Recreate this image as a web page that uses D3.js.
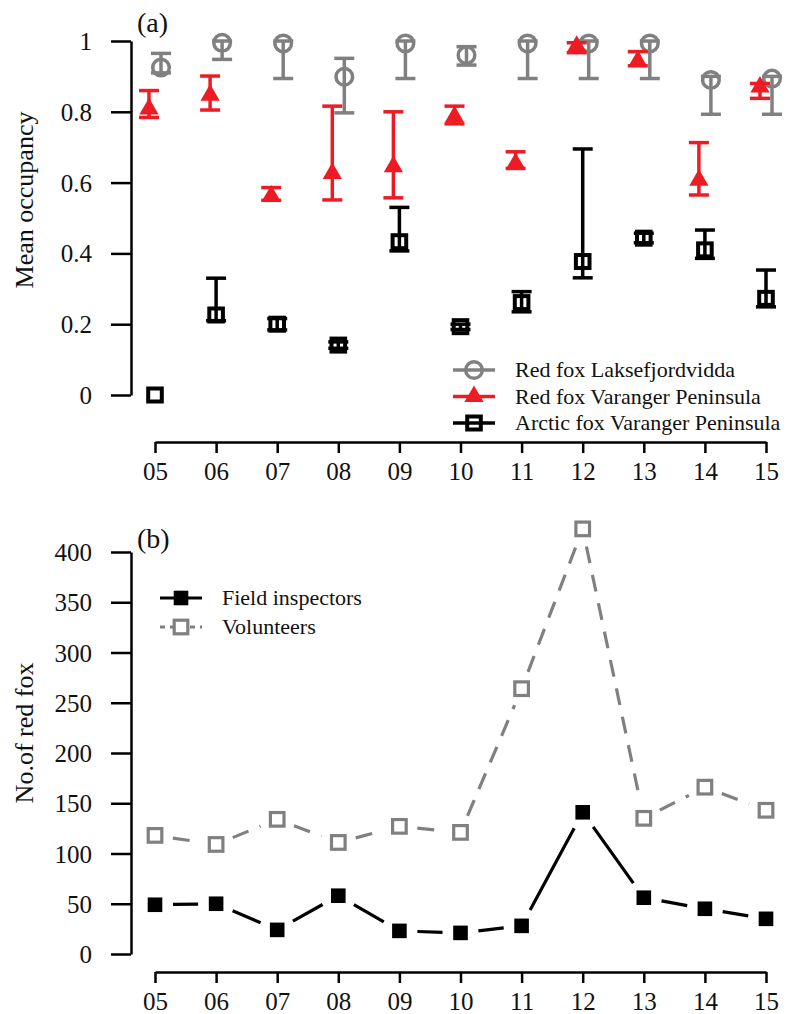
<!DOCTYPE html>
<html>
<head>
<meta charset="utf-8">
<script src="https://cdn.jsdelivr.net/npm/d3@7"></script>
<style>
  body { margin: 0; background: #fff; }
  svg { display: block; font-family: "Liberation Serif", "Times New Roman", serif; }
</style>
</head>
<body>
<svg id="chart" width="787" height="1014"></svg>
<script>
// ---------- DATA ----------
const years = [5, 6, 7, 8, 9, 10, 11, 12, 13, 14, 15];
const yearLabels = ["05", "06", "07", "08", "09", "10", "11", "12", "13", "14", "15"];

// Panel (a): mean occupancy with error bars
const lakMean = [0.925, 0.995, 0.993, 0.899, 0.993, 0.960, 0.993, 0.993, 0.993, 0.890, 0.894];
const lakLow  = [0.910, 0.948, 0.894, 0.797, 0.894, 0.932, 0.894, 0.894, 0.894, 0.793, 0.793];
const lakUp   = [0.965, 1.000, 1.000, 0.951, 1.000, 0.984, 1.000, 1.000, 1.000, 0.900, 0.900];

const redMean = [0.808, 0.847, 0.562, 0.626, 0.645, 0.786, 0.654, 0.985, 0.943, 0.607, 0.870];
const redLow  = [0.784, 0.805, 0.550, 0.551, 0.557, 0.766, 0.640, 0.967, 0.930, 0.565, 0.838];
const redUp   = [0.860, 0.901, 0.586, 0.816, 0.800, 0.816, 0.687, 0.995, 0.970, 0.713, 0.880];

const arcMean = [0.000, 0.226, 0.200, 0.141, 0.433, 0.193, 0.261, 0.377, 0.443, 0.410, 0.273];
const arcLow  = [0.000, 0.210, 0.184, 0.132, 0.407, 0.185, 0.235, 0.331, 0.430, 0.386, 0.249];
const arcUp   = [0.000, 0.330, 0.216, 0.150, 0.530, 0.200, 0.292, 0.695, 0.457, 0.466, 0.353];

const occTicks = [0, 0.2, 0.4, 0.6, 0.8, 1];
const occTickLabels = ["0", "0.2", "0.4", "0.6", "0.8", "1"];

// Panel (b): number of red fox
const fieldInspectors = [49, 50, 24, 58, 23, 21, 28, 141, 56, 45, 35];
const volunteers      = [118, 109, 134, 111, 127, 121, 264, 423, 135, 166, 143];
const countTicks = [0, 50, 100, 150, 200, 250, 300, 350, 400];

const legendA = ["Red fox Laksefjordvidda", "Red fox Varanger Peninsula", "Arctic fox Varanger Peninsula"];
const legendB = ["Field inspectors", "Volunteers"];

// ---------- STYLE ----------
const GRAY = "#808080", RED = "#ED1C24", BLACK = "#000";
const svg = d3.select("#chart");

const xA = d3.scaleLinear().domain([5, 15]).range([155, 766]);
const yA = d3.scaleLinear().domain([0, 1]).range([395, 41]);
const xB = d3.scaleLinear().domain([5, 15]).range([155, 766]);
const yB = d3.scaleLinear().domain([0, 400]).range([954, 552]);

function styleAxis(g) {
  g.selectAll("path.domain").attr("stroke", "#000").attr("stroke-width", 2.5);
  g.selectAll(".tick line").attr("stroke", "#000").attr("stroke-width", 2.5);
  g.selectAll(".tick text").attr("fill", "#111")
    .attr("font-family", '"Liberation Serif", "Times New Roman", serif')
    .attr("font-size", 25);
  g.attr("font-family", null).attr("font-size", null);
}

function drawAxes(x, y, yTicks, yFmt, xAxisY, yAxisX) {
  const gy = svg.append("g").attr("transform", `translate(${yAxisX},0)`)
    .call(d3.axisLeft(y).tickValues(yTicks).tickFormat(yFmt).tickSize(20).tickSizeOuter(0).tickPadding(19));
  styleAxis(gy);
  gy.selectAll(".tick text").attr("dy", "0.34em");
  const gx = svg.append("g").attr("transform", `translate(0,${xAxisY})`)
    .call(d3.axisBottom(x).tickValues(years).tickFormat((d, i) => yearLabels[i]).tickSize(11).tickSizeOuter(0).tickPadding(9));
  styleAxis(gx);
}

// ---------- PANEL (a) ----------
drawAxes(xA, yA, occTicks, (d, i) => occTickLabels[i], 442, 131);

svg.append("text").attr("x", 137).attr("y", 32).attr("font-size", 28).attr("fill", "#111").text("(a)");
svg.append("text").attr("transform", "translate(33,200) rotate(-90)").attr("text-anchor", "middle")
  .attr("font-size", 26).attr("fill", "#111").text("Mean occupancy");

const seriesA = [
  { mean: lakMean, low: lakLow, up: lakUp, color: GRAY, dx: 6, shape: "circle" },
  { mean: redMean, low: redLow, up: redUp, color: RED, dx: -6, shape: "triangle" },
  { mean: arcMean, low: arcLow, up: arcUp, color: BLACK, dx: 0, shape: "square" }
];

function drawMarker(g, shape, color, cx, cy) {
  if (shape === "circle") {
    g.append("circle").attr("cx", cx).attr("cy", cy).attr("r", 8.3)
      .attr("fill", "none").attr("stroke", color).attr("stroke-width", 3.5);
  } else if (shape === "triangle") {
    g.append("path").attr("d", d3.symbol(d3.symbolTriangle, 160)())
      .attr("transform", `translate(${cx},${cy})`).attr("fill", color);
  } else if (shape === "square") {
    g.append("rect").attr("x", cx - 6.8).attr("y", cy - 6.5).attr("width", 13.6).attr("height", 13)
      .attr("fill", "none").attr("stroke", color).attr("stroke-width", 4);
  }
}

seriesA.forEach(s => {
  const g = svg.append("g");
  years.forEach((yr, i) => {
    const cx = xA(yr) + s.dx;
    const yl = yA(s.low[i]), yu = yA(s.up[i]);
    if (Math.abs(yl - yu) > 0.5) {
      g.append("line").attr("x1", cx).attr("x2", cx).attr("y1", yl).attr("y2", yu)
        .attr("stroke", s.color).attr("stroke-width", 3.5);
      [yl, yu].forEach(yy => g.append("line").attr("x1", cx - 10).attr("x2", cx + 10)
        .attr("y1", yy).attr("y2", yy).attr("stroke", s.color).attr("stroke-width", 3.5));
    }
    drawMarker(g, s.shape, s.color, cx, yA(s.mean[i]));
  });
});

// legend (a)
legendA.forEach((t, i) => {
  const s = seriesA[i];
  const ly = 370 + i * 26.5;
  const g = svg.append("g");
  g.append("line").attr("x1", 453).attr("x2", 495).attr("y1", ly).attr("y2", ly)
    .attr("stroke", s.color).attr("stroke-width", 3.5);
  drawMarker(g, s.shape, s.color, 474, ly);
  g.append("text").attr("x", 515).attr("y", ly).attr("dy", "0.33em").attr("font-size", 22)
    .attr("fill", "#111").text(t);
});

// ---------- PANEL (b) ----------
drawAxes(xB, yB, countTicks, d => d, 972, 131);

svg.append("text").attr("x", 137).attr("y", 548).attr("font-size", 28).attr("fill", "#111").text("(b)");
svg.append("text").attr("transform", "translate(33,733) rotate(-90)").attr("text-anchor", "middle")
  .attr("font-size", 26).attr("fill", "#111").text("No.of red fox");

function gappedPath(vals) {
  const pts = years.map((yr, i) => [xB(yr), yB(vals[i])]);
  const p = d3.path();
  const gap = 18;
  for (let i = 0; i < pts.length - 1; i++) {
    const [x1, y1] = pts[i], [x2, y2] = pts[i + 1];
    const dx = x2 - x1, dy = y2 - y1, L = Math.hypot(dx, dy);
    if (L <= 2 * gap) continue;
    const ux = dx / L, uy = dy / L;
    p.moveTo(x1 + ux * gap, y1 + uy * gap);
    p.lineTo(x2 - ux * gap, y2 - uy * gap);
  }
  return p.toString();
}

svg.append("path").attr("d", gappedPath(volunteers)).attr("fill", "none")
  .attr("stroke", GRAY).attr("stroke-width", 3.2).attr("stroke-dasharray", "17,12");
svg.append("path").attr("d", gappedPath(fieldInspectors)).attr("fill", "none")
  .attr("stroke", BLACK).attr("stroke-width", 3.2);

svg.append("g").selectAll("rect").data(volunteers).join("rect")
  .attr("x", (d, i) => xB(years[i]) - 6.8).attr("y", d => yB(d) - 6.8)
  .attr("width", 13.6).attr("height", 13.6)
  .attr("fill", "none").attr("stroke", GRAY).attr("stroke-width", 3.2);
svg.append("g").selectAll("rect").data(fieldInspectors).join("rect")
  .attr("x", (d, i) => xB(years[i]) - 7.3).attr("y", d => yB(d) - 7.3)
  .attr("width", 14.6).attr("height", 14.6).attr("fill", BLACK);

// legend (b)
[0, 1].forEach(i => {
  const ly = 598 + i * 29;
  const g = svg.append("g");
  if (i === 0) {
    g.append("line").attr("x1", 160).attr("x2", 202).attr("y1", ly).attr("y2", ly)
      .attr("stroke", BLACK).attr("stroke-width", 3.2);
    g.append("rect").attr("x", 181 - 7.3).attr("y", ly - 7.3).attr("width", 14.6).attr("height", 14.6).attr("fill", BLACK);
  } else {
    g.append("line").attr("x1", 160).attr("x2", 202).attr("y1", ly).attr("y2", ly)
      .attr("stroke", GRAY).attr("stroke-width", 3.2).attr("stroke-dasharray", "5,5");
    g.append("rect").attr("x", 181 - 6.8).attr("y", ly - 6.8).attr("width", 13.6).attr("height", 13.6)
      .attr("fill", "#fff").attr("stroke", GRAY).attr("stroke-width", 3.2);
  }
  g.append("text").attr("x", 222).attr("y", ly).attr("dy", "0.33em").attr("font-size", 22)
    .attr("fill", "#111").text(legendB[i]);
});
</script>
</body>
</html>
